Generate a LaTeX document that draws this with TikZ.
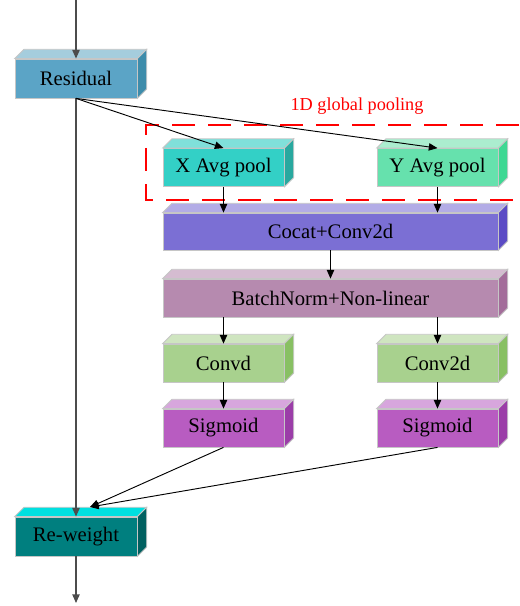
\documentclass[tikz,border=0pt]{standalone}
\usepackage{fontspec}
\setmainfont{Liberation Serif}
\newfontfamily\tempi{Liberation Serif}
\usetikzlibrary{arrows.meta}

\definecolor{resfronte}{HTML}{5BA4C6}
\definecolor{restop}{HTML}{A5CDDD}
\definecolor{reslato}{HTML}{3D8CAB}
\definecolor{xfronte}{HTML}{33D0C6}
\definecolor{xtop}{HTML}{80E0DA}
\definecolor{xlato}{HTML}{28A89F}
\definecolor{yfronte}{HTML}{66E1AD}
\definecolor{ytop}{HTML}{ABEDCF}
\definecolor{ylato}{HTML}{3ED893}
\definecolor{catfronte}{HTML}{7B6FD4}
\definecolor{cattop}{HTML}{B3ACE6}
\definecolor{catlato}{HTML}{5B4BC5}
\definecolor{bnfronte}{HTML}{B68AAF}
\definecolor{bntop}{HTML}{D5BCD1}
\definecolor{bnlato}{HTML}{A36D9A}
\definecolor{convfronte}{HTML}{A8D18E}
\definecolor{convtop}{HTML}{CFE5C0}
\definecolor{convlato}{HTML}{88C063}
\definecolor{sigfronte}{HTML}{B85CC1}
\definecolor{sigtop}{HTML}{D7A6DD}
\definecolor{siglato}{HTML}{9B3DA8}
\definecolor{rwfronte}{HTML}{007F7F}
\definecolor{rwtop}{HTML}{00E0E0}
\definecolor{rwlato}{HTML}{006060}

\tikzset{
    blocco/.style={draw=gray!45, line width=0.6pt, inner sep=0pt, minimum height=28.5pt,
                   minimum width=90.75pt, font=\tempi\fontsize{15.5}{18}\selectfont},
    largo/.style={blocco, minimum width=251.25pt},
    freccia/.style={-{Triangle[length=6.5pt,width=5.5pt]}, line width=0.7pt},
    tronco/.style={-{Triangle[length=6.5pt,width=5.5pt]}, line width=1pt, black!70}
}

\begin{document}
\begin{tikzpicture}[x=0.75pt, y=-0.75pt]

    \useasboundingbox (0,0) rectangle (519,606);

    % Comando \faccia: disegna faccia sopra e faccia laterale di un blocco
    \def\faccia#1#2#3{%
        \filldraw[fill=#2, draw=gray!45, line width=0.6pt] (#1.north west) -- ++(7pt,7pt)
            -- ([shift={(7pt,7pt)}]#1.north east) -- (#1.north east) -- cycle;%
        \filldraw[fill=#3, draw=gray!45, line width=0.6pt] (#1.north east) -- ++(7pt,7pt)
            -- ([shift={(7pt,7pt)}]#1.south east) -- (#1.south east) -- cycle;%
    }

    % -- Colonna sinistra: Residual e Re-weight --
    \node[blocco, fill=resfronte, minimum width=91.5pt, minimum height=29.25pt] (residual) at (76,78.5) {Residual};
    \node[blocco, fill=rwfronte, minimum width=91.5pt, minimum height=29.25pt] (reweight) at (76,536.5) {Re-weight};

    % -- Pooling globale 1D --
    \node[blocco, fill=xfronte] (xpool) at (223.5,167.5) {X Avg pool};
    \node[blocco, fill=yfronte] (ypool) at (437.5,167.5) {Y Avg pool};

    % -- Blocchi larghi --
    \node[largo, fill=catfronte, minimum height=27.75pt] (cocat) at (330.5,231.5) {Cocat+Conv2d};
    \node[largo, fill=bnfronte] (bnorm) at (330.5,298) {BatchNorm+Non-linear};

    % -- Due rami --
    \node[blocco, fill=convfronte] (convx) at (223.5,363) {Convd};
    \node[blocco, fill=convfronte] (convy) at (437.5,363) {Conv2d};
    \node[blocco, fill=sigfronte] (sigx) at (223.5,428) {Sigmoid};
    \node[blocco, fill=sigfronte] (sigy) at (437.5,428) {Sigmoid};

    \faccia{residual}{restop}{reslato}
    \faccia{reweight}{rwtop}{rwlato}
    \faccia{xpool}{xtop}{xlato}
    \faccia{ypool}{ytop}{ylato}
    \faccia{cocat}{cattop}{catlato}
    \faccia{bnorm}{bntop}{bnlato}
    \faccia{convx}{convtop}{convlato}
    \faccia{convy}{convtop}{convlato}
    \faccia{sigx}{sigtop}{siglato}
    \faccia{sigy}{sigtop}{siglato}

    % Riquadro tratteggiato rosso (aperto a destra)
    \draw[red, line width=1.2pt, dash pattern=on 17pt off 10pt]
        (519,125) -- (146,125) -- (146,200) -- (519,200);
    \node[text=red, font=\tempi\fontsize{13.7}{16}\selectfont] (etichetta) at (357,106) {1D global pooling};

    % -- Frecce --
    \coordinate (ingresso) at (76,0);
    \coordinate (uscita) at (76,603);
    \coordinate (arrivo) at (90,507);

    \draw[tronco] (ingresso) -- (residual.north);
    \draw[tronco] (residual.south) -- (reweight.north);
    \draw[tronco] (reweight.south) -- (uscita);

    \draw[freccia] (residual.south) -- (xpool.north);
    \draw[freccia] (residual.south) -- (ypool.north);
    \draw[freccia] (xpool.south) -- (xpool.south |- cocat.north);
    \draw[freccia] (ypool.south) -- (ypool.south |- cocat.north);
    \draw[freccia] (cocat.south) -- (bnorm.north);
    \draw[freccia] (convx.north |- bnorm.south) -- (convx.north);
    \draw[freccia] (convy.north |- bnorm.south) -- (convy.north);
    \draw[freccia] (convx.south) -- (sigx.north);
    \draw[freccia] (convy.south) -- (sigy.north);
    \draw[freccia] (sigx.south) -- (arrivo);
    \draw[freccia] (sigy.south) -- (arrivo);
\end{tikzpicture}
\end{document}
